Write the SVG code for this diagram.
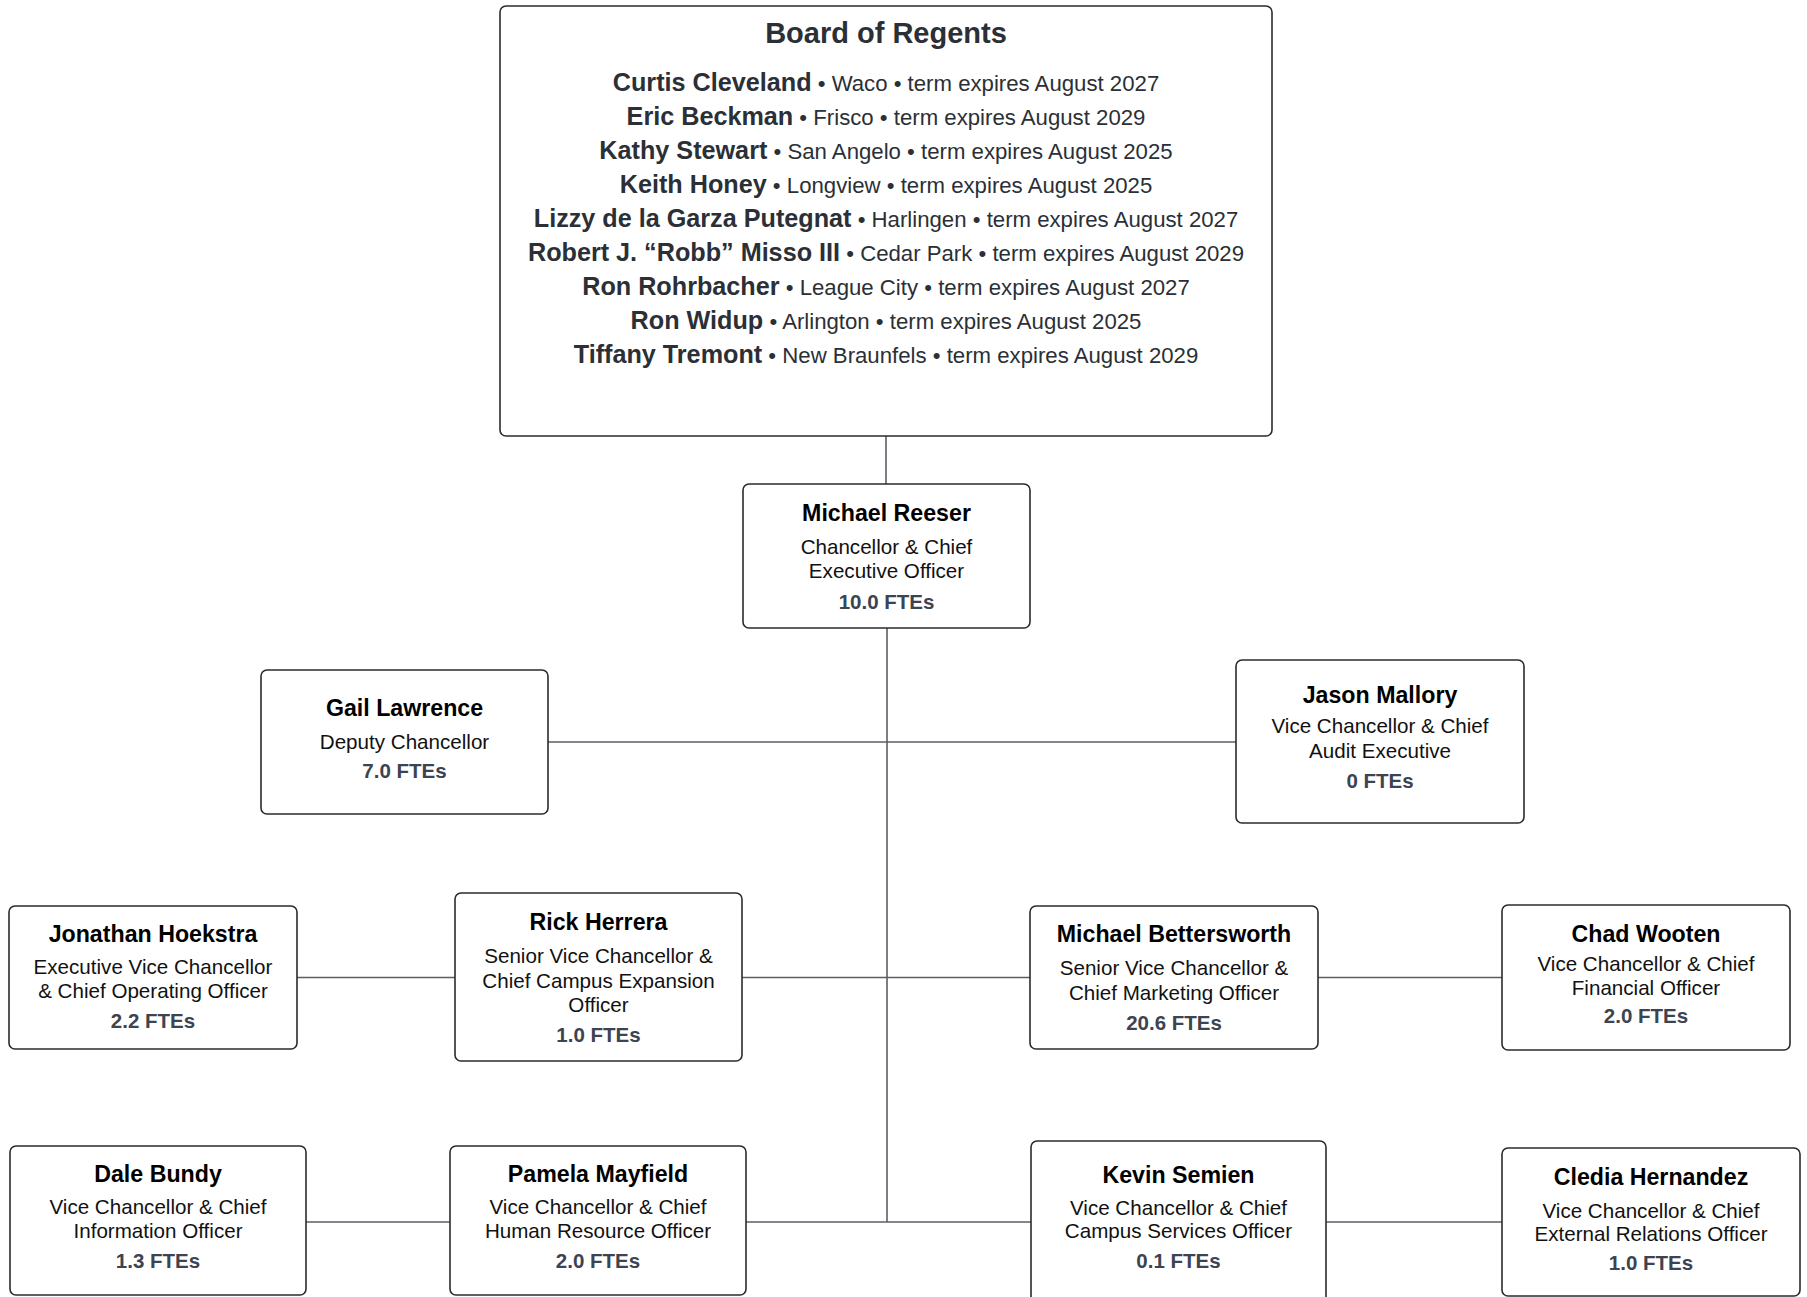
<svg xmlns="http://www.w3.org/2000/svg" width="1807" height="1297" viewBox="0 0 1807 1297">
<style>
.box{fill:#ffffff;stroke:#2b2b2b;stroke-width:1.6}
.conn{stroke:#5a5e66;stroke-width:1.6;fill:none}
text{font-family:"Liberation Sans",Arial,sans-serif;text-anchor:middle}
.nm{font-size:23.2px;font-weight:bold;fill:#000}
.rl{font-size:20.6px;fill:#111}
.fte{font-size:20.5px;font-weight:bold;fill:#3d4451}
.title{font-size:29px;font-weight:bold;fill:#2b2f36}
.bl{font-size:22.2px;fill:#2b2f36}
.bn{font-size:25.2px;font-weight:bold}
</style>
<rect width="1807" height="1297" fill="#ffffff"/>
<g id="connectors">
<line class="conn" x1="886" y1="436" x2="886" y2="484"/>
<line class="conn" x1="887" y1="628" x2="887" y2="1222"/>
<line class="conn" x1="548" y1="742" x2="1236" y2="742"/>
<line class="conn" x1="297" y1="977.5" x2="455" y2="977.5"/>
<line class="conn" x1="742" y1="977.5" x2="1030" y2="977.5"/>
<line class="conn" x1="1318" y1="977.5" x2="1502" y2="977.5"/>
<line class="conn" x1="306" y1="1222" x2="450" y2="1222"/>
<line class="conn" x1="746" y1="1222" x2="1031" y2="1222"/>
<line class="conn" x1="1326" y1="1222" x2="1502" y2="1222"/>
</g>
<g id="board">
<rect class="box" x="500" y="6" width="772" height="430" rx="6"/>
<text class="title" x="886" y="43">Board of Regents</text>
<text class="bl" x="886" y="91"><tspan class="bn">Curtis Cleveland</tspan> • Waco • term expires August 2027</text>
<text class="bl" x="886" y="125"><tspan class="bn">Eric Beckman</tspan> • Frisco • term expires August 2029</text>
<text class="bl" x="886" y="159"><tspan class="bn">Kathy Stewart</tspan> • San Angelo • term expires August 2025</text>
<text class="bl" x="886" y="193"><tspan class="bn">Keith Honey</tspan> • Longview • term expires August 2025</text>
<text class="bl" x="886" y="227"><tspan class="bn">Lizzy de la Garza Putegnat</tspan> • Harlingen • term expires August 2027</text>
<text class="bl" x="886" y="261"><tspan class="bn">Robert J. “Robb” Misso III</tspan> • Cedar Park • term expires August 2029</text>
<text class="bl" x="886" y="295"><tspan class="bn">Ron Rohrbacher</tspan> • League City • term expires August 2027</text>
<text class="bl" x="886" y="329"><tspan class="bn">Ron Widup</tspan> • Arlington • term expires August 2025</text>
<text class="bl" x="886" y="363"><tspan class="bn">Tiffany Tremont</tspan> • New Braunfels • term expires August 2029</text>
</g>
<g id="reeser">
<rect class="box" x="743" y="484" width="287" height="144" rx="6"/>
<text class="nm" x="886.5" y="521">Michael Reeser</text>
<text class="rl" x="886.5" y="554">Chancellor &amp; Chief</text>
<text class="rl" x="886.5" y="578">Executive Officer</text>
<text class="fte" x="886.5" y="609">10.0 FTEs</text>
</g>
<g id="lawrence">
<rect class="box" x="261" y="670" width="287" height="144" rx="6"/>
<text class="nm" x="404.5" y="716">Gail Lawrence</text>
<text class="rl" x="404.5" y="749">Deputy Chancellor</text>
<text class="fte" x="404.5" y="778">7.0 FTEs</text>
</g>
<g id="mallory">
<rect class="box" x="1236" y="660" width="288" height="163" rx="6"/>
<text class="nm" x="1380" y="703">Jason Mallory</text>
<text class="rl" x="1380" y="733">Vice Chancellor &amp; Chief</text>
<text class="rl" x="1380" y="758">Audit Executive</text>
<text class="fte" x="1380" y="788">0 FTEs</text>
</g>
<g id="hoekstra">
<rect class="box" x="9" y="906" width="288" height="143" rx="6"/>
<text class="nm" x="153" y="942">Jonathan Hoekstra</text>
<text class="rl" x="153" y="974">Executive Vice Chancellor</text>
<text class="rl" x="153" y="998">&amp; Chief Operating Officer</text>
<text class="fte" x="153" y="1028">2.2 FTEs</text>
</g>
<g id="herrera">
<rect class="box" x="455" y="893" width="287" height="168" rx="6"/>
<text class="nm" x="598.5" y="930">Rick Herrera</text>
<text class="rl" x="598.5" y="963">Senior Vice Chancellor &amp;</text>
<text class="rl" x="598.5" y="988">Chief Campus Expansion</text>
<text class="rl" x="598.5" y="1012">Officer</text>
<text class="fte" x="598.5" y="1042">1.0 FTEs</text>
</g>
<g id="bettersworth">
<rect class="box" x="1030" y="906" width="288" height="143" rx="6"/>
<text class="nm" x="1174" y="942">Michael Bettersworth</text>
<text class="rl" x="1174" y="975">Senior Vice Chancellor &amp;</text>
<text class="rl" x="1174" y="1000">Chief Marketing Officer</text>
<text class="fte" x="1174" y="1030">20.6 FTEs</text>
</g>
<g id="wooten">
<rect class="box" x="1502" y="905" width="288" height="145" rx="6"/>
<text class="nm" x="1646" y="942">Chad Wooten</text>
<text class="rl" x="1646" y="971">Vice Chancellor &amp; Chief</text>
<text class="rl" x="1646" y="995">Financial Officer</text>
<text class="fte" x="1646" y="1023">2.0 FTEs</text>
</g>
<g id="bundy">
<rect class="box" x="10" y="1146" width="296" height="149" rx="6"/>
<text class="nm" x="158" y="1182">Dale Bundy</text>
<text class="rl" x="158" y="1214">Vice Chancellor &amp; Chief</text>
<text class="rl" x="158" y="1238">Information Officer</text>
<text class="fte" x="158" y="1268">1.3 FTEs</text>
</g>
<g id="mayfield">
<rect class="box" x="450" y="1146" width="296" height="149" rx="6"/>
<text class="nm" x="598" y="1182">Pamela Mayfield</text>
<text class="rl" x="598" y="1214">Vice Chancellor &amp; Chief</text>
<text class="rl" x="598" y="1238">Human Resource Officer</text>
<text class="fte" x="598" y="1268">2.0 FTEs</text>
</g>
<g id="semien">
<rect class="box" x="1031" y="1141" width="295" height="170" rx="6"/>
<text class="nm" x="1178.5" y="1183">Kevin Semien</text>
<text class="rl" x="1178.5" y="1215">Vice Chancellor &amp; Chief</text>
<text class="rl" x="1178.5" y="1238">Campus Services Officer</text>
<text class="fte" x="1178.5" y="1268">0.1 FTEs</text>
</g>
<g id="hernandez">
<rect class="box" x="1502" y="1148" width="298" height="148" rx="6"/>
<text class="nm" x="1651" y="1185">Cledia Hernandez</text>
<text class="rl" x="1651" y="1218">Vice Chancellor &amp; Chief</text>
<text class="rl" x="1651" y="1241">External Relations Officer</text>
<text class="fte" x="1651" y="1270">1.0 FTEs</text>
</g>
</svg>
